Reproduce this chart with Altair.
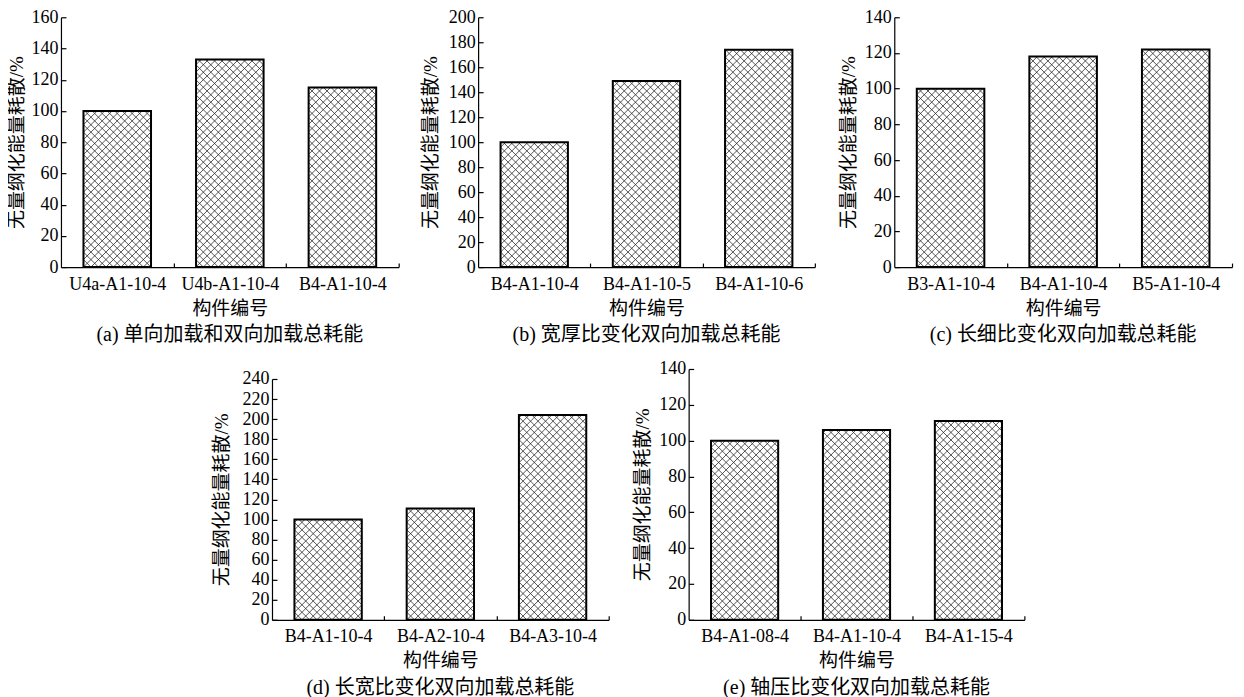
import math
import altair as alt
import pandas as pd

# ---------------- data ----------------
cats_a = ["U4a-A1-10-4", "U4b-A1-10-4", "B4-A1-10-4"]
vals_a = [100, 133, 115]
cats_b = ["B4-A1-10-4", "B4-A1-10-5", "B4-A1-10-6"]
vals_b = [100, 149, 174]
cats_c = ["B3-A1-10-4", "B4-A1-10-4", "B5-A1-10-4"]
vals_c = [100, 118, 122]
cats_d = ["B4-A1-10-4", "B4-A2-10-4", "B4-A3-10-4"]
vals_d = [100, 111, 204]
cats_e = ["B4-A1-08-4", "B4-A1-10-4", "B4-A1-15-4"]
vals_e = [100, 106, 111]
y_max = [160, 200, 140, 240, 140]
captions = [
    "(a) 单向加载和双向加载总耗能",
    "(b) 宽厚比变化双向加载总耗能",
    "(c) 长细比变化双向加载总耗能",
    "(d) 长宽比变化双向加载总耗能",
    "(e) 轴压比变化双向加载总耗能",
]
x_title = "构件编号"
y_title = "无量纲化能量耗散/%"

LAT = "Liberation Serif"
CJK = "Liberation Serif, Noto Sans CJK SC"
PERIOD = 7.5  # hatch period in px


def hatch_rows(vals, W, Hpx, ymax, p=PERIOD):
    sx = W / float(len(vals))
    sy = Hpx / float(ymax)
    rows = []
    for i, v in enumerate(vals):
        X0 = (i + 0.2) * sx
        X1 = (i + 0.8) * sx
        Yt = v * sy
        for k in range(math.floor(-X1 / p) - 1, math.ceil((Yt - X0) / p) + 2):
            c = k * p
            xa = max(X0, -c)
            xb = min(X1, Yt - c)
            if xb - xa > 0.3:
                rows.append((xa / sx, (xa + c) / sy, xb / sx, (xb + c) / sy))
        for k in range(math.floor(X0 / p) - 1, math.ceil((X1 + Yt) / p) + 2):
            c = k * p
            xa = max(X0, c - Yt)
            xb = min(X1, c)
            if xb - xa > 0.3:
                rows.append((xa / sx, (c - xa) / sy, xb / sx, (c - xb) / sy))
    return pd.DataFrame(rows, columns=["hx", "hy", "hx2", "hy2"])


def panel(cats, vals, ymax, caption, W, H, top=0, ytp=6, extra_right=0):
    n = len(cats)
    df = pd.DataFrame({
        "cat": cats,
        "v": vals,
        "x0": [i + 0.2 for i in range(n)],
        "x1": [i + 0.8 for i in range(n)],
        "y0": [0] * n,
    })
    xs = alt.Scale(domain=[0, n], nice=False, zero=False)
    ys = alt.Scale(domain=[0, ymax], nice=False, range=[H, top])
    yticks = list(range(0, ymax + 1, 20))
    names = ",".join("'%s'" % c for c in cats)
    label_expr = "[%s][floor(datum.value)]" % names

    base = alt.Chart(df)
    fill = base.mark_rect(fill="white", strokeWidth=0).encode(
        x=alt.X("x0:Q", scale=xs, axis=alt.Axis(
            orient="bottom", values=[i + 0.5 for i in range(n)], labelExpr=label_expr,
            ticks=False, tickSize=0, domain=True, domainColor="black", domainWidth=1.2,
            labelPadding=8, labelOverlap=False, labelFlush=False,
            title=x_title, titlePadding=6)),
        x2=alt.X2("x1:Q"),
        y=alt.Y("v:Q", scale=ys, axis=alt.Axis(
            orient="left", values=yticks, ticks=False, tickSize=0, domain=True,
            domainColor="black", domainWidth=1.2, labelPadding=3, labelFlush=False,
            labelOverlap=False, title=y_title, titlePadding=ytp)),
        y2=alt.Y2("y0:Q"),
    )
    hd = hatch_rows(vals, W, H - top, ymax)
    hatch = alt.Chart(hd).mark_rule(color="#2a2a2a", strokeWidth=0.8).encode(
        x=alt.X("hx:Q", scale=xs, axis=alt.Axis(
            orient="top", offset=-H, values=list(range(1, n + 1)), labels=False,
            domain=False, ticks=True, tickSize=4, tickWidth=1.2, tickColor="black", title=None)),
        x2=alt.X2("hx2:Q"),
        y=alt.Y("hy:Q", scale=ys, axis=alt.Axis(
            orient="right", offset=-W, values=yticks, labels=False, domain=False,
            ticks=True, tickSize=5, tickWidth=1.2, tickColor="black", title=None)),
        y2=alt.Y2("hy2:Q"),
    )
    if extra_right:
        # invisible spacer axis: only widens the layout box on the right
        oy = alt.Y("v:Q", scale=ys, axis=alt.Axis(
            orient="right", offset=extra_right, labels=False, ticks=False, domain=True,
            domainOpacity=0, title=None, grid=False))
    else:
        oy = alt.Y("v:Q", scale=ys, axis=None)
    outline = base.mark_rect(filled=False, stroke="black", strokeWidth=2).encode(
        x=alt.X("x0:Q", scale=xs, axis=None),
        x2=alt.X2("x1:Q"),
        y=oy,
        y2=alt.Y2("y0:Q"),
    )
    return alt.layer(fill, hatch, outline).resolve_axis(
        x="independent", y="independent"
    ).properties(
        width=W, height=H,
        title=alt.TitleParams(caption, orient="bottom", anchor="middle", offset=7,
                              frame="group", font=CJK, fontSize=20,
                              fontWeight="normal", color="black"),
    )


pa = panel(cats_a, vals_a, y_max[0], captions[0], 338, 250, ytp=4)
pb = panel(cats_b, vals_b, y_max[1], captions[1], 337, 250, ytp=8)
pc = panel(cats_c, vals_c, y_max[2], captions[2], 338, 250, ytp=6, extra_right=4)
pd_ = panel(cats_d, vals_d, y_max[3], captions[3], 337, 251, top=10, ytp=11)
pe = panel(cats_e, vals_e, y_max[4], captions[4], 336, 251, ytp=6)

row1 = alt.hconcat(pa, pb, pc, spacing=79.5, bounds="flush")
row2 = alt.hconcat(pd_, pe, spacing=80, bounds="flush")

chart = alt.vconcat(row1, row2, spacing=15, center=True).properties(
    padding={"left": 0, "top": 0, "right": 0, "bottom": 0}
).configure_view(strokeWidth=0).configure_axis(
    labelFont=LAT, labelFontSize=18, labelColor="black",
    titleFont=CJK, titleFontSize=19, titleFontWeight="normal", titleColor="black",
    grid=False,
)

chart.save("out.html", embed_options={"renderer": "svg", "actions": False})
